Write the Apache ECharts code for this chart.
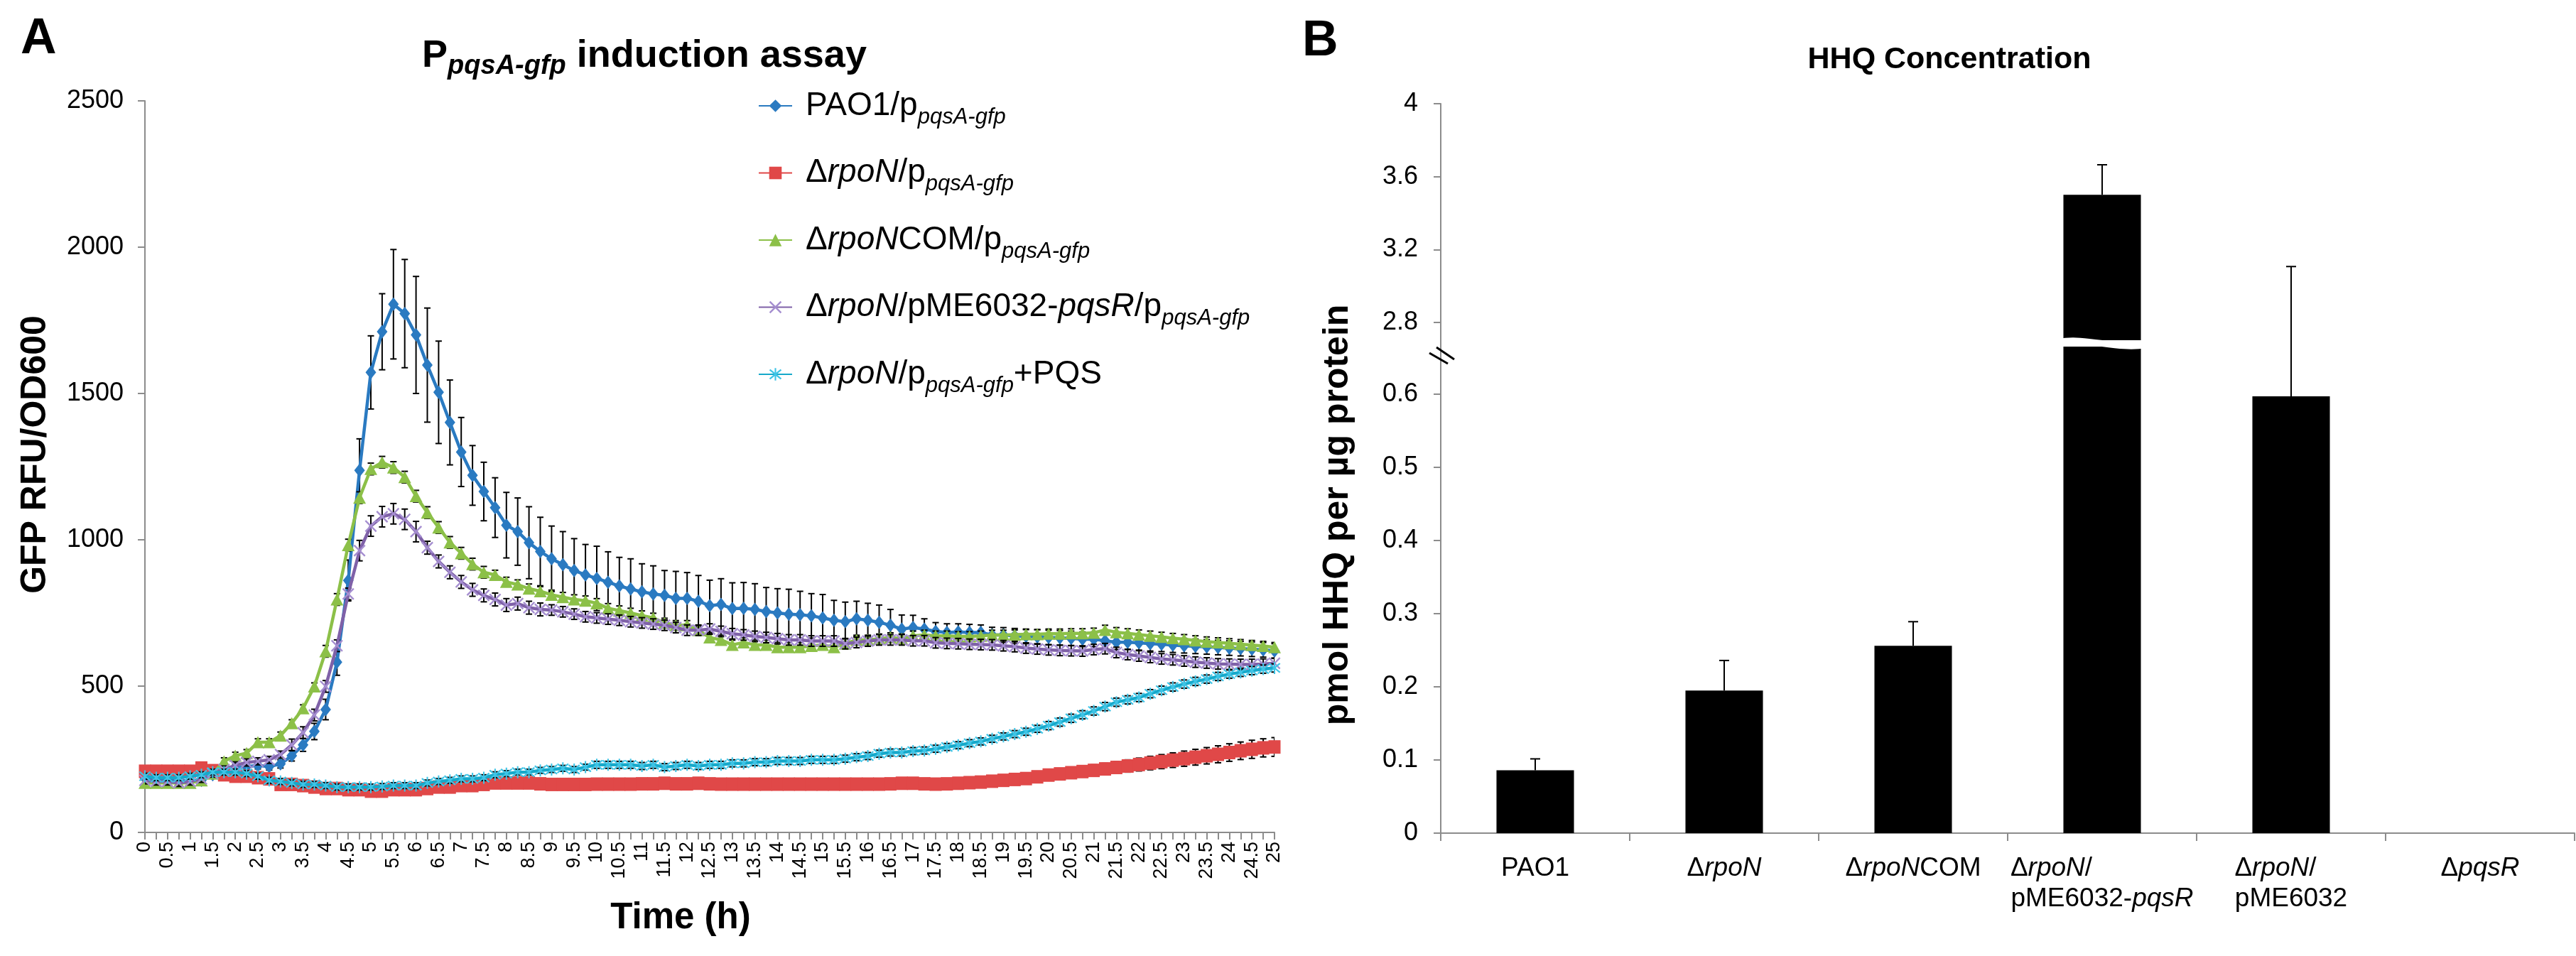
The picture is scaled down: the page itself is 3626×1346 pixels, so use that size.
<!DOCTYPE html>
<html><head><meta charset="utf-8">
<script src="https://cdn.jsdelivr.net/npm/echarts@6/dist/echarts.min.js"></script>
<style>html,body{margin:0;padding:0;background:#fff}#c{width:3626px;height:1346px}</style>
</head><body><div id="c"></div>
<script>
// ---------------- DATA ----------------
const timeLabels = ['0','0.25','0.5','0.75','1','1.25','1.5','1.75','2','2.25','2.5','2.75','3','3.25','3.5','3.75','4','4.25','4.5','4.75','5','5.25','5.5','5.75','6','6.25','6.5','6.75','7','7.25','7.5','7.75','8','8.25','8.5','8.75','9','9.25','9.5','9.75','10','10.25','10.5','10.75','11','11.25','11.5','11.75','12','12.25','12.5','12.75','13','13.25','13.5','13.75','14','14.25','14.5','14.75','15','15.25','15.5','15.75','16','16.25','16.5','16.75','17','17.25','17.5','17.75','18','18.25','18.5','18.75','19','19.25','19.5','19.75','20','20.25','20.5','20.75','21','21.25','21.5','21.75','22','22.25','22.5','22.75','23','23.25','23.5','23.75','24','24.25','24.5','24.75','25'];

const strainNames = ['PAO1/ppqsA-gfp','ΔrpoN/ppqsA-gfp','ΔrpoNCOM/ppqsA-gfp','ΔrpoN/pME6032-pqsR/ppqsA-gfp','ΔrpoN/ppqsA-gfp+PQS'];

const pao1 = [185,180,178,178,176,178,197,211,220,225,
229,225,234,262,299,345,420,582,861,1237,
1572,1711,1805,1773,1700,1597,1504,1401,1300,1220,
1165,1110,1050,1028,990,960,935,915,895,880,
868,855,842,832,822,815,810,800,800,790,
775,779,765,766,762,755,750,746,744,740,
733,725,720,730,725,718,708,695,700,695,
687,683,685,683,683,675,675,672,670,668,
666,665,663,660,660,655,650,650,648,645,
643,640,638,636,634,632,630,628,626,624,
620];
const pao1Err = [12,12,12,12,12,12,12,12,12,12,
12,12,14,18,22,28,35,45,70,108,
125,130,187,185,200,195,175,145,118,102,
100,102,112,115,123,117,112,113,109,104,
110,104,98,103,96,96,85,92,88,88,
87,88,88,88,88,82,83,85,80,76,
80,68,67,60,58,59,54,48,42,35,
30,30,28,28,26,26,25,25,25,25,
25,25,25,25,25,25,25,25,25,25,
25,25,25,25,25,25,25,25,25,25,
25];

const rpoN = [209,209,209,209,209,220,211,197,192,192,
187,183,164,164,160,155,150,150,146,146,
141,141,146,146,146,150,155,155,160,160,
164,169,169,169,169,166,164,164,164,164,
165,165,165,165,166,166,168,166,166,168,
166,165,165,165,165,165,165,165,165,165,
165,165,165,165,165,165,166,168,168,166,
165,166,168,170,172,175,178,181,184,190,
196,200,204,208,212,217,222,227,232,237,
242,247,252,257,262,267,273,279,284,289,
292];
const rpoNErr = [10,10,10,10,10,10,10,10,10,10,
10,10,10,10,10,10,10,10,10,10,
10,10,10,10,10,10,10,10,10,10,
10,10,10,10,10,10,10,10,10,10,
10,10,10,10,10,10,10,10,10,10,
10,10,10,10,10,10,10,10,10,10,
10,10,10,10,10,10,10,10,10,10,
12,12,13,13,14,14,15,15,16,16,
17,17,18,18,19,19,20,21,22,23,
24,25,26,27,28,29,30,30,31,31,
32];

const rpoNCOM = [169,169,169,169,169,178,201,243,262,271,
308,308,331,373,424,499,619,796,982,1144,
1242,1265,1247,1214,1149,1093,1042,991,954,917,
889,880,856,847,833,824,812,804,796,792,
783,766,758,750,741,733,716,708,708,691,
666,658,641,649,641,641,633,633,633,637,
641,633,645,658,658,662,666,662,672,675,
672,672,670,670,672,675,675,676,677,677,
679,679,680,680,682,692,684,680,676,672,
668,664,660,656,652,649,646,643,640,637,
633];
const rpoNCOMErr = [12,12,12,12,12,12,12,12,12,12,
12,12,12,12,12,12,20,20,20,20,
20,20,20,20,20,20,20,20,20,20,
20,16,16,16,16,16,16,16,16,16,
16,16,16,16,16,16,16,16,16,16,
16,16,16,16,16,16,16,16,16,16,
16,16,16,16,16,16,16,16,16,16,
16,16,16,16,16,16,16,16,16,16,
16,16,16,16,16,16,16,16,16,16,
16,16,16,16,16,16,16,16,16,16,
16];

const rpoNpqsR = [178,174,174,169,174,183,201,215,229,239,
243,248,266,299,341,401,499,638,815,963,
1047,1079,1089,1070,1028,973,926,889,856,829,
810,796,777,782,768,762,760,754,746,737,
733,729,725,720,716,712,708,700,691,691,
695,687,679,675,670,666,662,658,658,654,
654,654,645,649,654,658,658,658,655,655,
648,646,645,643,642,641,638,635,630,627,
624,622,621,620,625,628,615,608,603,598,
593,590,586,582,579,576,575,574,574,575,
578];
const rpoNpqsRErr = [12,12,12,12,12,12,12,12,12,12,
12,12,12,20,20,20,20,20,20,35,
35,35,35,35,35,22,22,22,22,22,
22,22,22,22,22,22,18,18,18,18,
18,18,18,18,18,18,18,18,18,18,
18,18,18,18,18,18,18,18,18,18,
18,18,18,18,18,18,18,18,18,18,
18,18,18,18,18,18,18,18,18,18,
18,18,18,18,18,18,18,18,18,18,
18,18,18,18,18,18,18,18,18,18,
18];

const rpoNPQS = [192,187,187,187,192,197,206,206,206,201,
192,178,174,169,164,164,160,155,155,155,
155,157,160,160,160,169,174,178,183,183,
187,197,201,206,206,212,215,219,215,223,
231,231,231,231,227,231,223,227,231,227,
231,231,236,236,240,240,244,244,244,248,
248,248,252,257,261,269,273,273,278,280,
286,292,298,305,311,320,328,336,344,354,
365,377,390,402,415,430,445,453,461,474,
486,497,507,516,524,533,541,547,553,558,
562];
const rpoNPQSErr = [10,10,10,10,10,10,10,10,10,10,
10,10,10,10,10,10,10,10,10,10,
10,10,10,10,10,10,10,10,10,10,
10,10,10,10,10,10,10,10,10,10,
12,12,12,12,12,12,12,12,12,12,
12,12,12,12,12,12,12,12,12,12,
12,12,12,12,12,12,12,12,12,12,
12,12,12,12,12,12,12,12,12,12,
14,14,14,14,14,14,14,14,14,14,
14,14,14,14,14,14,14,14,14,14,
14];

const gfpTickMax = 2500, gfpTickStep = 500;

const hhqCategories = ['PAO1','ΔrpoN','ΔrpoNCOM','ΔrpoN/pME6032-pqsR','ΔrpoN/pME6032','ΔpqsR'];
const hhqValues = [0.086, 0.195, 0.256, 3.50, 0.597, 0];
const hhqErrPlus = [0.0155, 0.041, 0.033, 0.165, 2.51, 0];
const hhqTicksLow = [0, 0.1, 0.2, 0.3, 0.4, 0.5, 0.6];
const hhqTicksHigh = [2.8, 3.2, 3.6, 4];
const hhqLowMax = 0.665;   // top of lower axis segment
const hhqHighMin = 2.703;  // bottom of upper axis segment
const hhqHighMax = 4;

// ---------------- STYLE ----------------
const FF = 'Liberation Sans, Arial, Helvetica, sans-serif';
const AX = '#8c8c8c';
const BREAK_GAP = 9; // px between the two segments of the broken axis
const colors = {
  blue: '#2A7AC1', red: '#E04848', green: '#8CC048',
  purple: '#7F61A8', purpleM: '#A58ED0', cyan: '#16A9CA', cyanM: '#3EC4E6'
};
const xPath = 'path://M1,0L5,4L9,0L10,1L6,5L10,9L9,10L5,6L1,10L0,9L4,5L0,1Z';
const starPath = 'path://M1,0L5,4L9,0L10,1L6,5L10,9L9,10L5,6L1,10L0,9L4,5L0,1Z M4.4,-1L5.6,-1L5.6,11L4.4,11Z';

const legendRich = [
  '{n|PAO1/p}{s|pqsA-gfp}',
  '{n|Δ}{i|rpoN}{n|/p}{s|pqsA-gfp}',
  '{n|Δ}{i|rpoN}{n|COM/p}{s|pqsA-gfp}',
  '{n|Δ}{i|rpoN}{n|/pME6032-}{i|pqsR}{n|/p}{s|pqsA-gfp}',
  '{n|Δ}{i|rpoN}{n|/p}{s|pqsA-gfp}{n|+PQS}'
];
const hhqLabelRich = [
  '{n|PAO1}',
  '{n|Δ}{i|rpoN}',
  '{n|Δ}{i|rpoN}{n|COM}',
  '{n|Δ}{i|rpoN}{n|/}{sp1| }\n{n|pME6032-}{i|pqsR}',
  '{n|Δ}{i|rpoN}{n|/}{sp2| }\n{n|pME6032}',
  '{n|Δ}{i|pqsR}'
];

function errSeries(vals, errs, z) {
  return {
    type: 'custom', xAxisIndex: 0, yAxisIndex: 0, z: z, silent: true, clip: true,
    data: vals.map((v, i) => [i, v, errs[i]]),
    encode: { x: 0, y: 1 },
    renderItem: function (params, api) {
      const i = api.value(0), v = api.value(1), e = api.value(2);
      const t = api.coord([i, v + e]), b = api.coord([i, v - e]);
      const hw = 4.5, st = { stroke: '#000', lineWidth: 2 };
      return { type: 'group', children: [
        { type: 'line', shape: { x1: t[0], y1: t[1], x2: b[0], y2: b[1] }, style: st },
        { type: 'line', shape: { x1: t[0] - hw, y1: t[1], x2: t[0] + hw, y2: t[1] }, style: st },
        { type: 'line', shape: { x1: b[0] - hw, y1: b[1], x2: b[0] + hw, y2: b[1] }, style: st }
      ]};
    }
  };
}
function lineSeries(name, data, z, symbol, size, lineColor, markColor) {
  return {
    name: name, type: 'line', xAxisIndex: 0, yAxisIndex: 0, z: z, data: data,
    symbol: symbol, symbolSize: size, showAllSymbol: true, smooth: false,
    lineStyle: { color: lineColor, width: 4.5 },
    itemStyle: { color: markColor },
    emphasis: { disabled: true }
  };
}
// lower segment: error bars that run past the top continue across the break gap
function hhqErrLower() {
  return {
    type: 'custom', xAxisIndex: 1, yAxisIndex: 1, z: 5, silent: true, clip: false,
    data: hhqValues.map((v, i) => [i, v, hhqErrPlus[i]]),
    encode: { x: 0, y: 1 },
    renderItem: function (params, api) {
      const i = api.value(0), v = api.value(1), e = api.value(2);
      if (!(e > 0) || v >= hhqLowMax) return null;
      const b = api.coord([i, v]), t = api.coord([i, v + e]);
      const topLimit = params.coordSys.y - BREAK_GAP;
      const st = { stroke: '#000', lineWidth: 2 }, hw = 7;
      const ch = [{ type: 'line', shape: { x1: b[0], y1: b[1], x2: t[0], y2: Math.max(t[1], topLimit) }, style: st }];
      if (t[1] >= params.coordSys.y) ch.push({ type: 'line', shape: { x1: t[0] - hw, y1: t[1], x2: t[0] + hw, y2: t[1] }, style: st });
      return { type: 'group', children: ch };
    }
  };
}
function hhqErrUpper() {
  return {
    type: 'custom', xAxisIndex: 2, yAxisIndex: 2, z: 5, silent: true, clip: true,
    data: hhqValues.map((v, i) => [i, v, hhqErrPlus[i]]),
    encode: { x: 0, y: 1 },
    renderItem: function (params, api) {
      const i = api.value(0), v = api.value(1), e = api.value(2);
      if (!(e > 0) || v + e <= hhqHighMin) return null;
      const b = api.coord([i, v]), t = api.coord([i, v + e]);
      const hw = 7, st = { stroke: '#000', lineWidth: 2 };
      return { type: 'group', children: [
        { type: 'line', shape: { x1: b[0], y1: b[1], x2: t[0], y2: t[1] }, style: st },
        { type: 'line', shape: { x1: t[0] - hw, y1: t[1], x2: t[0] + hw, y2: t[1] }, style: st }
      ]};
    }
  };
}

const axisLineS = { show: true, lineStyle: { color: AX, width: 2 } };
const tickS = { show: true, length: 10, lineStyle: { color: AX, width: 2 } };

const baseGraphics = [
  { id: 'tA', type: 'text', x: 29, y: 56, style: { text: 'A', fontSize: 70, fontWeight: 'bold', fontFamily: FF, fill: '#000', align: 'left', verticalAlign: 'middle' } },
  { id: 'tB', type: 'text', x: 1833, y: 59, style: { text: 'B', fontSize: 70, fontWeight: 'bold', fontFamily: FF, fill: '#000', align: 'left', verticalAlign: 'middle' } },
  { id: 't1', type: 'text', x: 907, y: 79, style: { text: '{b|P}{s|pqsA-gfp}{b| induction assay}', align: 'center', verticalAlign: 'middle',
      rich: { b: { fontSize: 54, fontWeight: 'bold', fontFamily: FF, fill: '#000', lineHeight: 70 },
              s: { fontSize: 38, fontWeight: 'bold', fontStyle: 'italic', fontFamily: FF, fill: '#000', padding: [30, 0, 0, 0] } } } },
  { id: 't2', type: 'text', x: 2744, y: 84, style: { text: 'HHQ Concentration', fontSize: 43, fontWeight: 'bold', fontFamily: FF, fill: '#000', align: 'center', verticalAlign: 'middle' } },
  { id: 'yl', type: 'text', x: 50, y: 640, rotation: Math.PI / 2, style: { text: 'GFP RFU/OD600', fontSize: 50, fontWeight: 'bold', fontFamily: FF, fill: '#000', align: 'center', verticalAlign: 'middle' } },
  { id: 'xl', type: 'text', x: 958, y: 1293, style: { text: 'Time (h)', fontSize: 51, fontWeight: 'bold', fontFamily: FF, fill: '#000', align: 'center', verticalAlign: 'middle' } },
  { id: 'yr', type: 'text', x: 1883, y: 725, rotation: Math.PI / 2, style: { text: 'pmol HHQ per µg protein', fontSize: 50, fontWeight: 'bold', fontFamily: FF, fill: '#000', align: 'center', verticalAlign: 'middle' } },
  { id: 'ax', type: 'line', shape: { x1: 2028, y1: 478, x2: 2028, y2: 490 }, style: { stroke: AX, lineWidth: 2 } },
  { id: 'b1', type: 'line', z: 10, shape: { x1: 2022, y1: 489, x2: 2047, y2: 506 }, style: { stroke: '#000', lineWidth: 3 } },
  { id: 'b2', type: 'line', z: 10, shape: { x1: 2012, y1: 497, x2: 2038, y2: 512 }, style: { stroke: '#000', lineWidth: 3 } }
];

const option = {
  animation: false,
  backgroundColor: '#fff',
  textStyle: { fontFamily: FF },
  grid: [
    { left: 204, top: 142, width: 1590, height: 1030, outerBoundsMode: 'none', containLabel: false },
    { left: 2028, top: 488, width: 1596, height: 685, outerBoundsMode: 'none', containLabel: false },
    { left: 2028, top: 146, width: 1596, height: 333, outerBoundsMode: 'none', containLabel: false }
  ],
  xAxis: [
    { gridIndex: 0, type: 'category', data: timeLabels, boundaryGap: false,
      axisLine: axisLineS, axisTick: Object.assign({ interval: 0 }, tickS),
      axisLabel: { interval: 1, rotate: 90, fontSize: 27, color: '#000', margin: 13, fontFamily: FF },
      splitLine: { show: false } },
    { gridIndex: 1, type: 'category', data: hhqCategories, boundaryGap: true,
      axisLine: axisLineS, axisTick: Object.assign({ interval: 0 }, tickS, { length: 11 }),
      axisLabel: { interval: 0, margin: 28, color: '#000', fontFamily: FF,
        formatter: function (v) { return hhqLabelRich[hhqCategories.indexOf(v)]; },
        rich: {
          n: { fontSize: 37, lineHeight: 43, fontFamily: FF, color: '#000' },
          i: { fontSize: 37, lineHeight: 43, fontFamily: FF, fontStyle: 'italic', color: '#000' },
          sp1: { fontSize: 37, lineHeight: 43, width: 143 },
          sp2: { fontSize: 37, lineHeight: 43, width: 44 }
        } },
      splitLine: { show: false } },
    { gridIndex: 2, type: 'category', data: hhqCategories, boundaryGap: true, show: false }
  ],
  yAxis: [
    { gridIndex: 0, type: 'value', min: 0, max: gfpTickMax, interval: gfpTickStep,
      axisLine: axisLineS, axisTick: tickS, splitLine: { show: false },
      axisLabel: { fontSize: 36, color: '#000', margin: 30, fontFamily: FF, formatter: function (v) { return String(v); } } },
    { gridIndex: 1, type: 'value', min: 0, max: hhqLowMax,
      axisLine: axisLineS, axisTick: Object.assign({ customValues: hhqTicksLow }, tickS), splitLine: { show: false },
      axisLabel: { customValues: hhqTicksLow, fontSize: 36, color: '#000', margin: 32, fontFamily: FF } },
    { gridIndex: 2, type: 'value', min: hhqHighMin, max: hhqHighMax,
      axisLine: axisLineS, axisTick: Object.assign({ customValues: hhqTicksHigh }, tickS), splitLine: { show: false },
      axisLabel: { customValues: hhqTicksHigh, fontSize: 36, color: '#000', margin: 32, fontFamily: FF } }
  ],
  legend: {
    data: strainNames, orient: 'vertical', left: 1067, top: 126, padding: 0,
    itemGap: 40, itemWidth: 47, itemHeight: 22,
    formatter: function (name) { return legendRich[strainNames.indexOf(name)]; },
    textStyle: { fontFamily: FF, color: '#000', padding: [0, 0, 0, 14],
      rich: {
        n: { fontSize: 46, lineHeight: 64, fontFamily: FF, color: '#000' },
        i: { fontSize: 46, lineHeight: 64, fontFamily: FF, fontStyle: 'italic', color: '#000' },
        s: { fontSize: 31, fontFamily: FF, fontStyle: 'italic', color: '#000', padding: [32, 0, 0, 0] }
      } },
    selectedMode: false
  },
  graphic: { elements: baseGraphics },
  series: [
    errSeries(pao1, pao1Err, 2),
    lineSeries(strainNames[0], pao1, 3, 'diamond', [15, 19], colors.blue, colors.blue),
    errSeries(rpoN, rpoNErr, 4),
    lineSeries(strainNames[1], rpoN, 5, 'rect', [17, 19], colors.red, colors.red),
    errSeries(rpoNCOM, rpoNCOMErr, 6),
    lineSeries(strainNames[2], rpoNCOM, 7, 'triangle', [18, 17], colors.green, colors.green),
    errSeries(rpoNpqsR, rpoNpqsRErr, 8),
    lineSeries(strainNames[3], rpoNpqsR, 9, xPath, 17, colors.purple, colors.purpleM),
    errSeries(rpoNPQS, rpoNPQSErr, 10),
    lineSeries(strainNames[4], rpoNPQS, 11, starPath, 17, colors.cyan, colors.cyanM),
    { type: 'bar', xAxisIndex: 1, yAxisIndex: 1, data: hhqValues, barWidth: '41%', clip: true, z: 3,
      itemStyle: { color: '#000' }, emphasis: { disabled: true }, silent: true },
    { type: 'bar', xAxisIndex: 2, yAxisIndex: 2, data: hhqValues.map(v => v > hhqHighMin ? v : '-'), barWidth: '41%', clip: true, z: 3,
      itemStyle: { color: '#000' }, emphasis: { disabled: true }, silent: true },
    hhqErrLower(),
    hhqErrUpper()
  ]
};
const chart = echarts.init(document.getElementById('c'), null, { renderer: 'canvas' });
chart.setOption(option);

// wavy white break across the broken bar, placed from the axis scales
(function () {
  const idx = hhqValues.findIndex(v => v > hhqHighMin);
  if (idx < 0) return;
  const pLow = chart.convertToPixel({ xAxisIndex: 1, yAxisIndex: 1 }, [idx, hhqLowMax]);
  const pHigh = chart.convertToPixel({ xAxisIndex: 2, yAxisIndex: 2 }, [idx, hhqHighMin]);
  const cx = pLow[0], cy = (pLow[1] + pHigh[1]) / 2, hw = 62;
  baseGraphics.push({ id: 'wave', type: 'bezierCurve', z: 20,
    shape: { x1: cx - hw, y1: cy - 2, cpx1: cx - hw / 3, cpy1: cy - 9, cpx2: cx + hw / 3, cpy2: cy + 9, x2: cx + hw, y2: cy + 2 },
    style: { stroke: '#fff', lineWidth: 9, fill: null } });
  chart.setOption({ graphic: { elements: baseGraphics } });
})();
</script>
</body></html>
